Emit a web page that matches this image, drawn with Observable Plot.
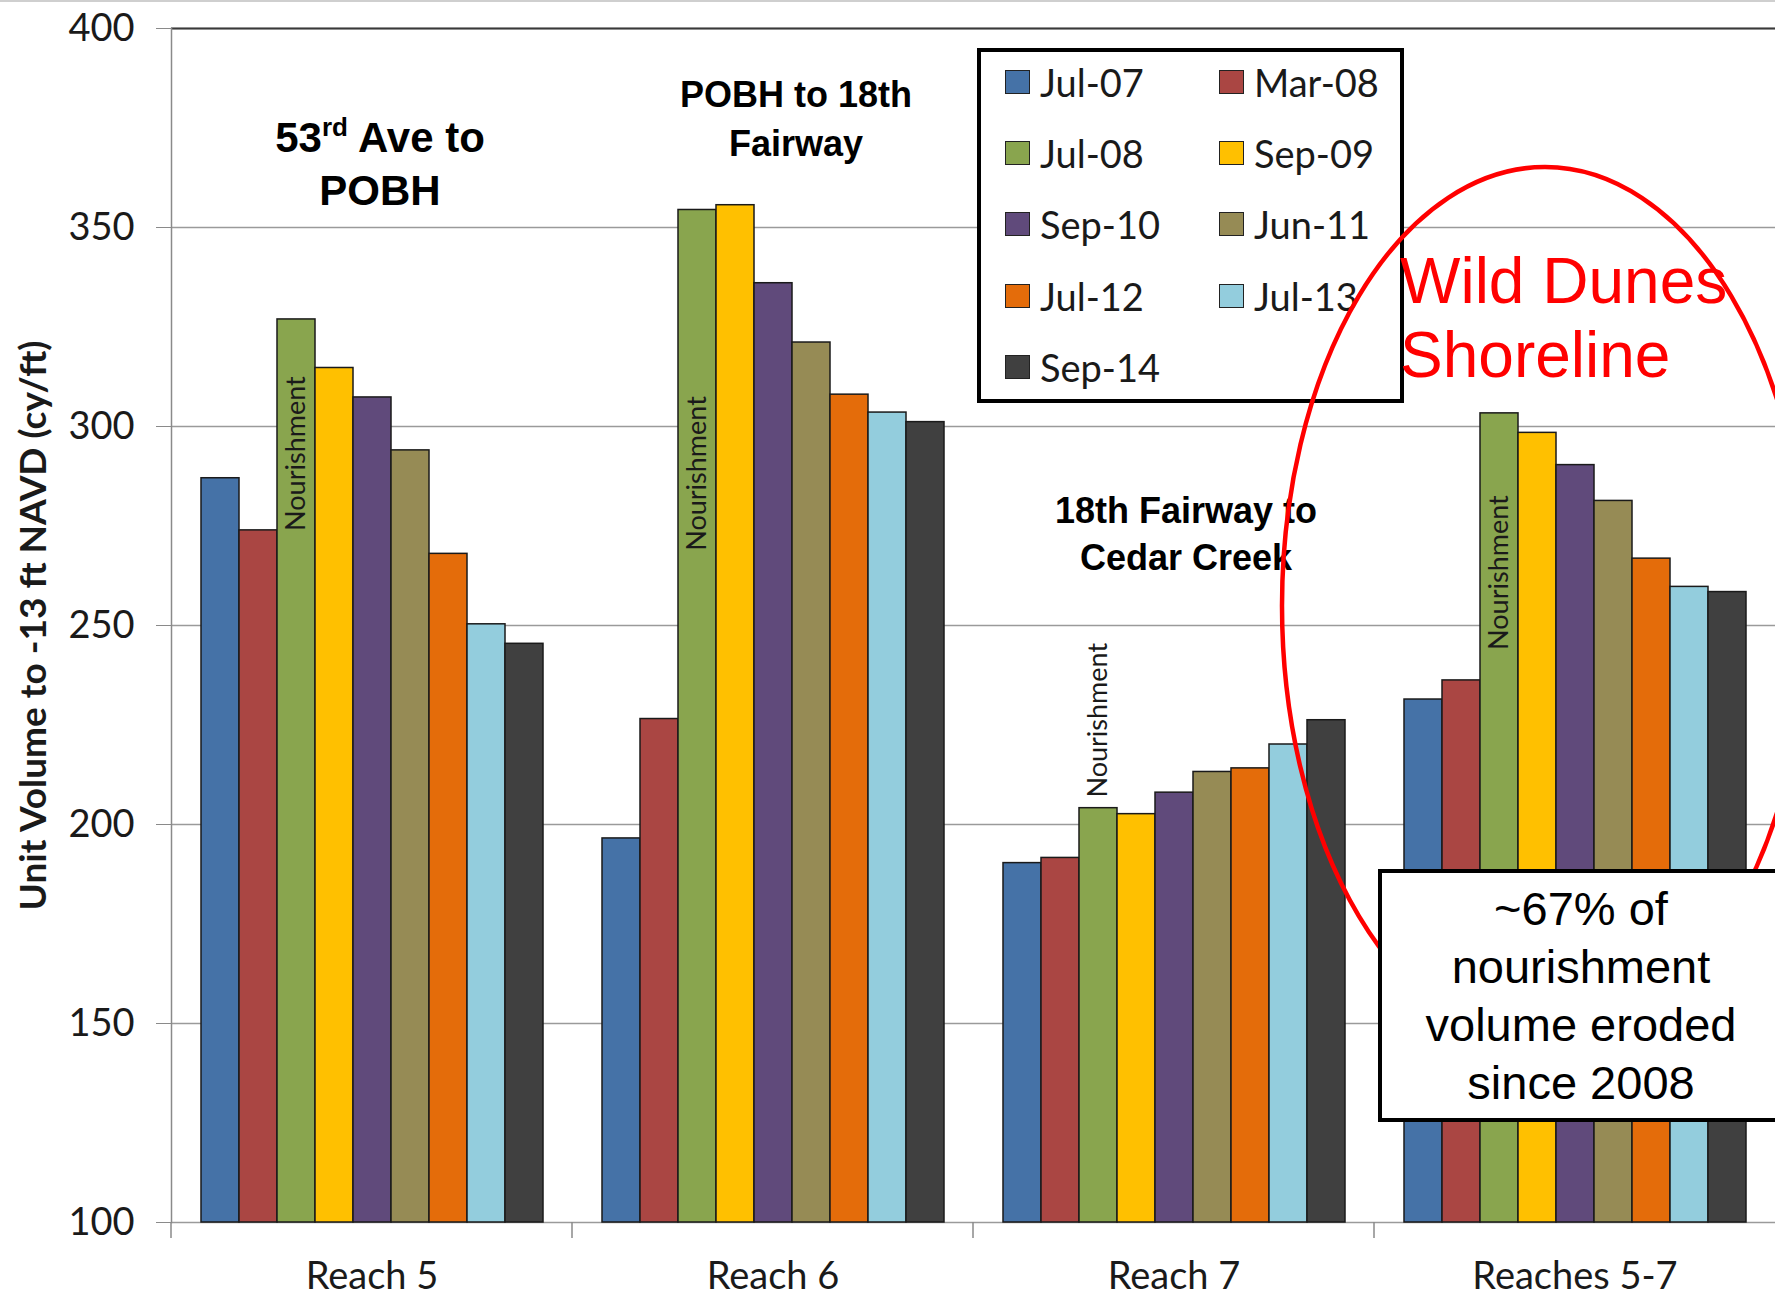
<!DOCTYPE html>
<html>
<head>
<meta charset="utf-8">
<script src="https://cdn.jsdelivr.net/npm/d3@7"></script>
<script src="https://cdn.jsdelivr.net/npm/@observablehq/plot@0.6"></script>
<style>
  html, body { margin: 0; padding: 0; background: #fff; }
  #wrap { position: relative; width: 1775px; height: 1299px; overflow: hidden; background: #fff; }
  #wrap > svg { position: absolute; left: 0; top: 0; }
  #topline { position: absolute; left: 0; top: 0; width: 1775px; height: 2px; background: #cfcfcf; }
  #legend { position: absolute; left: 977px; top: 48px; width: 427px; height: 355px; box-sizing: border-box;
            border: 4px solid #000; background: #fff; font-family: Lato, "Open Sans", sans-serif; font-size: 38px; color: #1a1a1a; }
  #legend .item { position: absolute; height: 40px; display: flex; align-items: center; white-space: nowrap; }
  #legend .sw { width: 25px; height: 24px; box-sizing: border-box; border: 1.5px solid #222; margin-right: 10px; }
  #overlay { position: absolute; left: 0; top: 0; pointer-events: none; }
  #note { position: absolute; left: 1378px; top: 869px; width: 420px; height: 253px; box-sizing: border-box;
          border: 4px solid #000; background: #fff; font-family: "Liberation Sans", Arial, sans-serif; font-size: 47px;
          line-height: 58px; color: #000; }
  #note div { width: 398px; text-align: center; padding-top: 7px; }
</style>
</head>
<body>
<div id="wrap"></div>
<script>
// ---- data ----
const reaches = ["Reach 5", "Reach 6", "Reach 7", "Reaches 5-7"];
const surveys = ["Jul-07", "Mar-08", "Jul-08", "Sep-09", "Sep-10", "Jun-11", "Jul-12", "Jul-13", "Sep-14"];
const reach5   = [287.0, 273.9, 326.9, 314.7, 307.3, 294.0, 268.0, 250.3, 245.4];
const reach6   = [196.5, 226.5, 354.4, 355.6, 336.0, 321.1, 308.0, 303.5, 301.1];
const reach7   = [190.3, 191.6, 204.1, 202.6, 208.0, 213.2, 214.1, 220.1, 226.2];
const reach567 = [231.4, 236.2, 303.3, 298.4, 290.3, 281.3, 266.8, 259.7, 258.4];
const surveyColors = ["#4572A7", "#AA4643", "#89A54E", "#FFC000", "#604A7B", "#968B55", "#E46C0A", "#93CDDD", "#404040"];
const yDomain = [100, 400];
const yTicks = [100, 150, 200, 250, 300, 350, 400];
const yLabel = "Unit Volume to -13 ft NAVD (cy/ft)";
const groupTitles = ["53rd Ave to\nPOBH", "POBH to 18th\nFairway", "18th Fairway to\nCedar Creek"];
const groupTitleReach = ["Reach 5", "Reach 6", "Reach 7"];
const groupTitleY = [366.5, 378, 273.7];
const nourishText = "Nourishment";
const nourishSurvey = "Jul-08";
const nourishY = [293.2, 288.2, 226.2, 263.3];   // label centre, per reach
const calloutTitle = ["Wild Dunes", "Shoreline"];
const calloutNote = ["~67% of", "nourishment", "volume eroded", "since 2008"];

const seriesByReach = [reach5, reach6, reach7, reach567];
const table = reaches.flatMap((r, i) => surveys.map((s, j) => ({reach: r, survey: s, value: seriesByReach[i][j]})));
const nourishRows = reaches.map((r, i) => ({reach: r, survey: nourishSurvey, y: nourishY[i]}));
const titleRows = groupTitleReach.map((r, i) => ({reach: r, text: groupTitles[i], y: groupTitleY[i]}));

// short separator ticks under the category axis, at each facet's left edge
function separators(index, scales, values, dims) {
  const g = d3.create("svg:g");
  const y0 = dims.height - dims.marginBottom;
  g.append("line")
    .attr("x1", dims.marginLeft).attr("x2", dims.marginLeft)
    .attr("y1", y0).attr("y2", y0 + 16)
    .attr("stroke", "#8a8a8a").attr("stroke-width", 1.5);
  return g.node();
}

const titleFont = "'Liberation Sans', Arial, sans-serif";
const chart = Plot.plot({
  width: 1775,
  height: 1299,
  marginTop: 28,
  marginRight: 0,
  marginBottom: 77,
  marginLeft: 170,
  style: {fontFamily: "Lato, 'Open Sans', sans-serif", fontSize: "38px", background: "#fff", color: "#1a1a1a"},
  fx: {domain: reaches, padding: 0, label: null},
  x: {domain: surveys, paddingInner: 0, paddingOuter: 0.73, axis: null},
  y: {domain: yDomain, label: yLabel},
  color: {domain: surveys, range: surveyColors},
  marks: [
    Plot.gridY(yTicks, {stroke: "#9a9a9a", strokeOpacity: 1, strokeWidth: 1.5}),
    Plot.ruleY([yDomain[1]], {stroke: "#3a3a3a", strokeWidth: 2}),
    Plot.frame({anchor: "left", facetAnchor: "left", stroke: "#8a8a8a", strokeWidth: 1.5}),
    separators,
    Plot.barY(table, {fx: "reach", x: "survey", y1: yDomain[0], y2: "value", fill: "survey", stroke: "#1a1a1a", strokeWidth: 1.5}),
    Plot.axisY({ticks: yTicks, tickSize: 15, tickPadding: 22, tickFormat: d => String(d), stroke: "#8a8a8a", fill: "#1a1a1a",
                label: yLabel, labelAnchor: "center", labelArrow: "none", labelOffset: 152, fontSize: 38}),
    Plot.axisFx({anchor: "bottom", tickSize: 0, tickPadding: 40, fontSize: 38, fill: "#1a1a1a", label: null}),
    Plot.text(nourishRows, {fx: "reach", x: "survey", y: "y", text: () => nourishText, rotate: -90, fontSize: 27, fill: "#1a1a1a"}),
    Plot.text(titleRows.filter(d => d.reach === "Reach 5"), {fx: "reach", y: "y", text: "text", dx: 8, fontSize: 42, lineHeight: 1.24, fontWeight: "bold", fontFamily: titleFont, fill: "#000"}),
    Plot.text(titleRows.filter(d => d.reach === "Reach 6"), {fx: "reach", y: "y", text: "text", dx: 23, fontSize: 36, lineHeight: 1.36, fontWeight: "bold", fontFamily: titleFont, fill: "#000"}),
    Plot.text(titleRows.filter(d => d.reach === "Reach 7"), {fx: "reach", y: "y", text: "text", dx: 12, fontSize: 36, lineHeight: 1.3, fontWeight: "bold", fontFamily: titleFont, fill: "#000"})
  ]
});

const wrap = document.getElementById("wrap");
wrap.appendChild(chart);

// superscript "rd" in the first group title
chart.querySelectorAll("tspan, text").forEach(el => {
  if (el.childElementCount === 0 && el.textContent === "53rd Ave to") {
    el.textContent = "53";
    const sup = document.createElementNS("http://www.w3.org/2000/svg", "tspan");
    sup.setAttribute("font-size", "26");
    sup.setAttribute("dy", "-16");
    sup.textContent = "rd";
    const rest = document.createElementNS("http://www.w3.org/2000/svg", "tspan");
    rest.setAttribute("dy", "16");
    rest.textContent = " Ave to";
    el.appendChild(sup);
    el.appendChild(rest);
  }
});
// bold y-axis title
chart.querySelectorAll("g[aria-label='y-axis label'] text").forEach(t => {
  t.setAttribute("font-weight", "bold");
  t.setAttribute("font-size", "37");
});

// top slide border
const tl = document.createElement("div"); tl.id = "topline"; wrap.appendChild(tl);

// legend built from the chart's colour scale
const color = chart.scale("color");
const legend = document.createElement("div");
legend.id = "legend";
color.domain.forEach((name, i) => {
  const row = Math.floor(i / 2), col = i % 2;
  const item = document.createElement("div");
  item.className = "item";
  item.style.left = (24 + col * 214) + "px";
  item.style.top = (10 + row * 71.2) + "px";
  const sw = document.createElement("span");
  sw.className = "sw";
  sw.style.background = color.range[i];
  const lab = document.createElement("span");
  lab.textContent = name;
  item.appendChild(sw); item.appendChild(lab);
  legend.appendChild(item);
});
wrap.appendChild(legend);

// red ellipse callout
const ov = d3.create("svg").attr("id", "overlay").attr("width", 1775).attr("height", 1299);
ov.append("ellipse").attr("cx", 1545).attr("cy", 606).attr("rx", 263).attr("ry", 439)
  .attr("fill", "none").attr("stroke", "#ff0000").attr("stroke-width", 4.5);
ov.append("g").attr("font-family", titleFont).attr("font-size", 64).attr("fill", "#ff0000")
  .selectAll("text").data(calloutTitle).join("text")
  .attr("x", 1400).attr("y", (d, i) => 303 + i * 74).text(d => d);
wrap.appendChild(ov.node());

// boxed note
const note = document.createElement("div");
note.id = "note";
const inner = document.createElement("div");
inner.innerHTML = calloutNote.map(s => s.replace(/&/g, "&amp;")).join("<br>");
note.appendChild(inner);
wrap.appendChild(note);
</script>
</body>
</html>
